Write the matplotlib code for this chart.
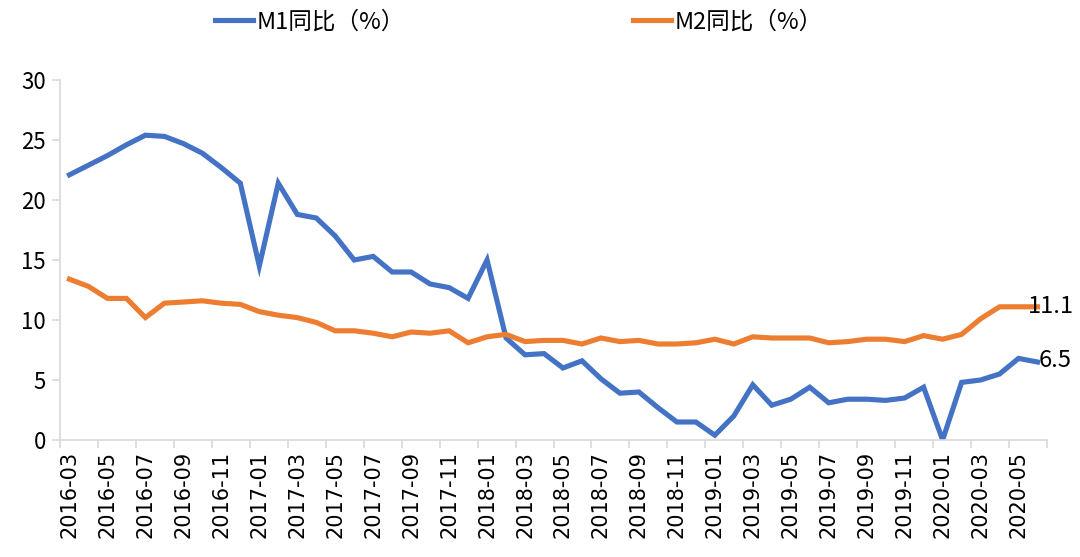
import matplotlib
matplotlib.use("Agg")
import matplotlib.pyplot as plt
from matplotlib.lines import Line2D

plt.rcParams['font.family'] = ['Noto Sans CJK SC', 'DejaVu Sans']

# monthly labels 2016-03 .. 2020-06
months = []
for y in range(2016, 2021):
    for m in range(1, 13):
        if (y == 2016 and m < 3) or (y == 2020 and m > 6):
            continue
        months.append("%d-%02d" % (y, m))

m1 = [22.1, 22.9, 23.7, 24.6, 25.4, 25.3, 24.7, 23.9, 22.7, 21.4,
      14.5, 21.4, 18.8, 18.5, 17.0, 15.0, 15.3, 14.0, 14.0, 13.0, 12.7, 11.8,
      15.0, 8.5, 7.1, 7.2, 6.0, 6.6, 5.1, 3.9, 4.0, 2.7, 1.5, 1.5,
      0.4, 2.0, 4.6, 2.9, 3.4, 4.4, 3.1, 3.4, 3.4, 3.3, 3.5, 4.4,
      0.0, 4.8, 5.0, 5.5, 6.8, 6.5]
m2 = [13.4, 12.8, 11.8, 11.8, 10.2, 11.4, 11.5, 11.6, 11.4, 11.3,
      10.7, 10.4, 10.2, 9.8, 9.1, 9.1, 8.9, 8.6, 9.0, 8.9, 9.1, 8.1,
      8.6, 8.8, 8.2, 8.3, 8.3, 8.0, 8.5, 8.2, 8.3, 8.0, 8.0, 8.1,
      8.4, 8.0, 8.6, 8.5, 8.5, 8.5, 8.1, 8.2, 8.4, 8.4, 8.2, 8.7,
      8.4, 8.8, 10.1, 11.1, 11.1, 11.1]
labels = ['M1同比（%）', 'M2同比（%）']

blue = '#4472C4'
orange = '#ED7D31'
grey = '#D9D9D9'

fig = plt.figure(figsize=(10.8, 5.57), dpi=100)
ax = fig.add_axes([60 / 1080, 1 - 440 / 557, 987 / 1080, 360 / 557])

x = list(range(len(months)))
l1, = ax.plot(x, m1, color=blue, lw=3.7, solid_joinstyle='miter')
l2, = ax.plot(x, m2, color=orange, lw=3.7, solid_joinstyle='miter')

ax.set_xlim(-0.5, len(months) - 0.5)
ax.set_ylim(0, 30)
ax.set_yticks(range(0, 31, 5))
ax.tick_params(axis='y', labelsize=16, length=6, color=grey, width=1.2, pad=4)

ax.set_xticks(x[::2])
ax.set_xticklabels(months[::2], rotation=90, fontsize=15,
                   family=['DejaVu Sans'])
ax.set_xticks([i - 0.5 for i in range(0, len(months) + 1, 2)], minor=True)
ax.tick_params(axis='x', which='major', length=0, pad=8)
ax.tick_params(axis='x', which='minor', length=6, color=grey, width=1.2)

for s in ['top', 'right']:
    ax.spines[s].set_visible(False)
for s in ['left', 'bottom']:
    ax.spines[s].set_color(grey)
    ax.spines[s].set_linewidth(1.2)

ax.annotate('%.1f' % m2[-1], (x[-1], m2[-1]), xytext=(-7, 0),
            textcoords='offset points', ha='left', va='center', fontsize=17)
ax.annotate('%.1f' % m1[-1], (x[-1], m1[-1]), xytext=(1, 1),
            textcoords='offset points', ha='left', va='center', fontsize=17)

for line, lab, x0 in [(l1, labels[0], 215), (l2, labels[1], 633)]:
    fig.legend([line], [lab], loc='center left',
               bbox_to_anchor=(x0 / 1080, 1 - 22 / 557),
               frameon=False, fontsize=17, handlelength=1.6,
               handletextpad=0.15, borderpad=0, borderaxespad=0)

fig.savefig('out.png', dpi=100)
